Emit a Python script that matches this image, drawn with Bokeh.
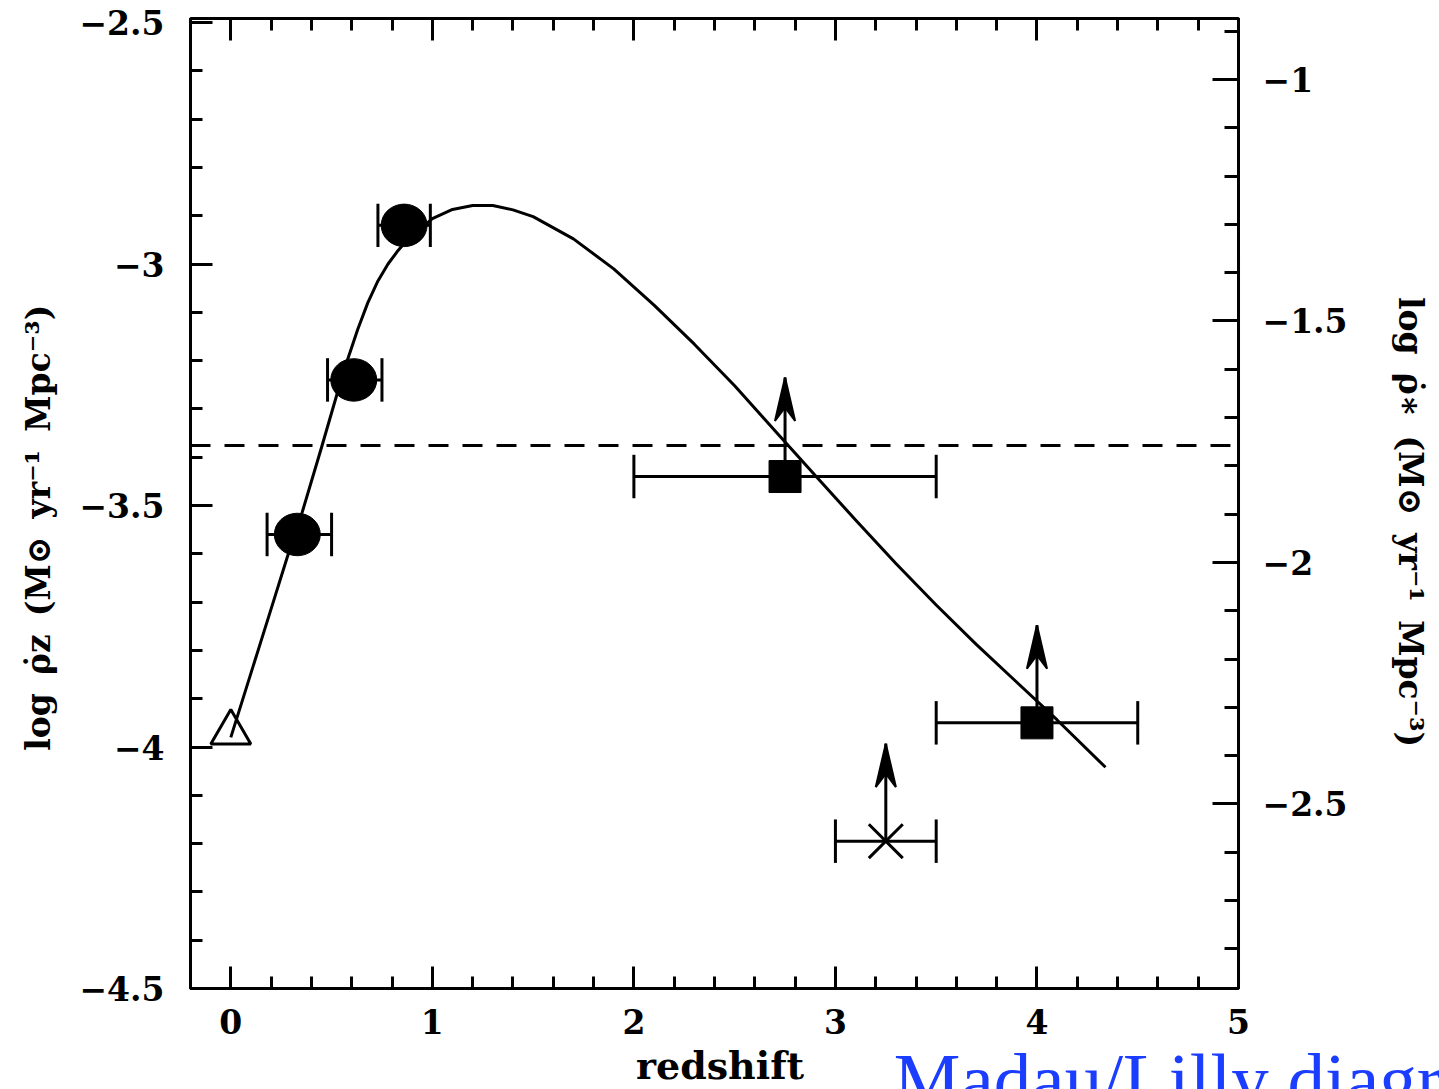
from bokeh.plotting import figure
from bokeh.models import (Range1d, LinearAxis, FixedTicker, CustomJSTickFormatter,
                          Label, BoxAnnotation)
from bokeh.embed import file_html
from bokeh.resources import INLINE

# ---------------- data ----------------
curve_z = [0.0, 0.1, 0.2, 0.28, 0.35, 0.45, 0.53, 0.58, 0.63, 0.68, 0.73, 0.78,
           0.83, 0.87, 1.0, 1.1, 1.2, 1.3, 1.4, 1.5, 1.7, 1.9, 2.1, 2.3, 2.5,
           2.7, 2.9, 3.1, 3.3, 3.5, 3.7, 3.9, 4.1, 4.34]
curve_logrho = [-3.98, -3.847, -3.714, -3.607, -3.52, -3.38, -3.265, -3.197, -3.135,
                -3.080, -3.035, -3.000, -2.972, -2.953, -2.906, -2.887, -2.879,
                -2.879, -2.888, -2.902, -2.948, -3.010, -3.085, -3.166, -3.252,
                -3.345, -3.438, -3.530, -3.620, -3.706, -3.788, -3.866, -3.944,
                -4.042]

dashed_level = -3.376
dashed_z = [-0.2, 4.96]

lilly_z = [0.33, 0.61, 0.86]
lilly_z_lo = [0.18, 0.48, 0.73]
lilly_z_hi = [0.50, 0.75, 0.99]
lilly_logrho = [-3.56, -3.24, -2.92]

local_z = [0.0]
local_logrho = [-3.97]

hdf_z = [2.75, 4.0]
hdf_z_lo = [2.0, 3.5]
hdf_z_hi = [3.5, 4.5]
hdf_logrho = [-3.44, -3.95]
hdf_arrow_tip = [-3.235, -3.748]

cross_z = [3.25]
cross_z_lo = [3.0]
cross_z_hi = [3.5]
cross_logrho = [-4.195]
cross_arrow_tip = [-3.993]

x_major = [0, 1, 2, 3, 4, 5]
x_minor = [round(-0.2 + 0.2 * i, 2) for i in range(27)]
y_major = [-4.5, -4.0, -3.5, -3.0, -2.5]
y_minor = [round(-4.5 + 0.1 * i, 2) for i in range(21)]
r_major = [-2.5, -2.0, -1.5, -1.0]
r_minor = [round(-2.8 + 0.1 * i, 2) for i in range(20)]
right_offset = 1.618

GAP = " \u2009"
x_label = "redshift"
y_label = ("\u00a0" * 3 + "log" + GAP + "\u03c1\u0307z" + GAP + "(M\u2299" + GAP
           + "yr\u207b\u00b9" + GAP + "Mpc\u207b\u00b3)")
r_label = ("log" + GAP + "\u03c1\u0307\u2217" + GAP + "(M\u2299" + GAP
           + "yr\u207b\u00b9" + GAP + "Mpc\u207b\u00b3)" + "\u00a0" * 4)
caption = "Madau/Lilly diagram"

# ---------------- layout / styles ----------------
W, H = 1439, 1089
FONT = "DejaVu Serif"
LW = 3
CAP = 0.045
box_x0, box_x1 = -0.2, 5.0          # plotting box in data units
box_y0, box_y1 = -4.5, -2.4917
PX_X = 201.54                        # pixels per redshift unit
PX_Y = 483.0                         # pixels per dex
box_left_px, box_bottom_px = 190, 988

x_lo = box_x0 - box_left_px / PX_X
x_hi = x_lo + W / PX_X
y_lo = box_y0 - (H - box_bottom_px) / PX_Y
y_hi = y_lo + H / PX_Y

p = figure(width=W, height=H, output_backend="svg", toolbar_location=None,
           x_range=Range1d(x_lo, x_hi), y_range=Range1d(y_lo, y_hi),
           x_axis_type=None, y_axis_type=None, min_border=0)
p.extra_y_ranges = {"right": Range1d(y_lo + right_offset, y_hi + right_offset)}
p.outline_line_color = None
p.background_fill_color = "white"
p.border_fill_color = "white"

fmt = CustomJSTickFormatter(code="return tick < 0 ? '\\u2212' + Math.abs(tick) : String(tick);")


def style_axis(ax, major_in=22, minor_in=12):
    ax.axis_line_color = None
    ax.major_tick_line_width = LW
    ax.minor_tick_line_width = LW
    ax.major_tick_in = major_in
    ax.major_tick_out = 0
    ax.minor_tick_in = minor_in
    ax.minor_tick_out = 0
    ax.major_label_text_font = FONT
    ax.major_label_text_font_style = "bold"
    ax.major_label_text_font_size = "33px"
    ax.major_label_text_color = "black"
    ax.axis_label_text_font = FONT
    ax.axis_label_text_font_style = "bold"
    ax.axis_label_text_color = "black"
    ax.formatter = fmt


# bottom axis
xb = LinearAxis(ticker=FixedTicker(ticks=x_major, minor_ticks=x_minor), axis_label=x_label,
                fixed_location=box_y0)
style_axis(xb)
xb.major_label_standoff = 20
xb.axis_label_text_font_size = "38px"
xb.axis_label_standoff = 6
p.add_layout(xb, "below")

# top axis: tick marks only (long at integers, short every 0.2)
for ticks_here, length in ((x_minor, 12), (x_major, 22)):
    xt = LinearAxis(ticker=FixedTicker(ticks=[], minor_ticks=ticks_here),
                    fixed_location=box_y1)
    style_axis(xt, major_in=0, minor_in=length)
    p.add_layout(xt, "above")

# left axis
yl = LinearAxis(ticker=FixedTicker(ticks=y_major, minor_ticks=y_minor), axis_label=y_label,
                fixed_location=box_x0)
style_axis(yl)
yl.major_label_standoff = 26
yl.axis_label_text_font_size = "33px"
yl.axis_label_standoff = 18
p.add_layout(yl, "left")

# right axis (star-formation density scale)
yr = LinearAxis(y_range_name="right", ticker=FixedTicker(ticks=r_major, minor_ticks=r_minor),
                axis_label=r_label, fixed_location=box_x1)
style_axis(yr, major_in=26, minor_in=14)
yr.major_label_standoff = 24
yr.axis_label_text_font_size = "33px"
yr.axis_label_standoff = 40
p.add_layout(yr, "right")

# plotting box
p.add_layout(BoxAnnotation(left=box_x0, right=box_x1, bottom=box_y0, top=box_y1,
                           fill_alpha=0, line_color="black", line_width=LW,
                           line_alpha=1, level="underlay"))

# dashed reference level
p.line(dashed_z, [dashed_level, dashed_level], line_color="black", line_width=LW,
       line_dash="20 14")

# model curve
p.line(curve_z, curve_logrho, line_color="black", line_width=LW, line_join="round")


def xerr(z, lo, hi, y):
    p.segment(lo, y, hi, y, line_color="black", line_width=LW)
    p.segment(lo, [v - CAP for v in y], lo, [v + CAP for v in y], line_color="black", line_width=LW)
    p.segment(hi, [v - CAP for v in y], hi, [v + CAP for v in y], line_color="black", line_width=LW)


def up_arrows(z, y, tip):
    p.segment(z, y, z, tip, line_color="black", line_width=LW)
    hw, hl, notch = 0.05, 0.09, 0.062
    xs = [[x, x + hw, x, x - hw] for x in z]
    ys = [[t, t - hl, t - notch, t - hl] for t in tip]
    p.patches(xs, ys, fill_color="black", line_color="black", line_width=2)


# Lilly et al. points
xerr(lilly_z, lilly_z_lo, lilly_z_hi, lilly_logrho)
p.ellipse(lilly_z, lilly_logrho, width=0.228, height=0.088, fill_color="black",
          line_color="black")

# local point
p.scatter(local_z, local_logrho, marker="triangle", size=40, fill_alpha=0,
          line_color="black", line_width=LW)

# HDF squares
xerr(hdf_z, hdf_z_lo, hdf_z_hi, hdf_logrho)
up_arrows(hdf_z, hdf_logrho, hdf_arrow_tip)
p.scatter(hdf_z, hdf_logrho, marker="square", size=32, fill_color="black",
          line_color="black")

# cross point
xerr(cross_z, cross_z_lo, cross_z_hi, cross_logrho)
up_arrows(cross_z, cross_logrho, cross_arrow_tip)
p.scatter(cross_z, cross_logrho, marker="x", size=48, line_color="black", line_width=LW)

# caption (partly off the bottom edge, as in the original)
p.add_layout(Label(x=3.29, y=-4.688, x_units="data", y_units="data", text=caption,
                   text_font="Liberation Serif", text_font_size="75px",
                   text_color="#1a3dff", text_baseline="alphabetic"))

open("out.html", "w").write(file_html(p, INLINE))
